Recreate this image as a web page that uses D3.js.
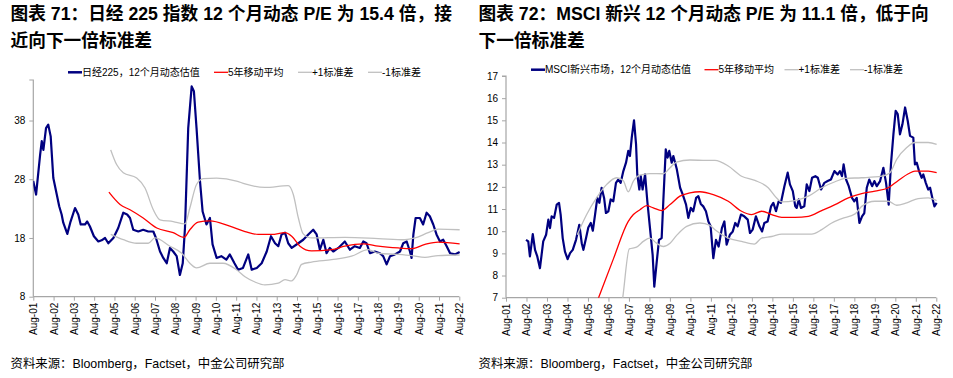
<!DOCTYPE html>
<html><head><meta charset="utf-8">
<script src="https://cdn.jsdelivr.net/npm/d3@7"></script>
<style>
html,body{margin:0;padding:0;background:#fff;}
svg{display:block;}
text{font-family:"Liberation Sans",Arial,"Noto Sans CJK SC",sans-serif;}
</style></head>
<body>
<svg id="c" width="953" height="378"></svg>
<script>
// ---------- DATA ----------
const xTickYears = d3.range(0, 22).map(i => 2001.583 + i);
const xTickLabels = ["Aug-01","Aug-02","Aug-03","Aug-04","Aug-05","Aug-06","Aug-07","Aug-08","Aug-09","Aug-10","Aug-11","Aug-12","Aug-13","Aug-14","Aug-15","Aug-16","Aug-17","Aug-18","Aug-19","Aug-20","Aug-21","Aug-22"];

const leftTitle = ["图表 71：日经 225 指数 12 个月动态 P/E 为 15.4 倍，接", "近向下一倍标准差"];
const rightTitle = ["图表 72：MSCI 新兴 12 个月动态 P/E 为 11.1 倍，低于向", "下一倍标准差"];
const sourceText = "资料来源：Bloomberg，Factset，中金公司研究部";
const leftLegend = ["日经225，12个月动态估值", "5年移动平均", "+1标准差", "-1标准差"];
const rightLegend = ["MSCI新兴市场，12个月动态估值", "5年移动平均", "+1标准差", "-1标准差"];
const leftYTicks = [8, 18, 28, 38];
const rightYTicks = [7, 8, 9, 10, 11, 12, 13, 14, 15, 16, 17];

const nikkeiPE = [[2001.58,27.7],[2001.72,25.4],[2001.92,32.2],[2002.0,34.5],[2002.08,33.0],[2002.21,36.7],[2002.32,37.3],[2002.44,35.3],[2002.57,28.2],[2002.74,25.4],[2002.86,23.4],[2002.98,22.0],[2003.06,20.6],[2003.26,18.7],[2003.42,20.8],[2003.64,23.1],[2003.8,22.0],[2003.92,20.3],[2004.13,20.3],[2004.24,20.8],[2004.37,20.0],[2004.57,18.3],[2004.79,17.4],[2004.95,17.6],[2005.12,18.0],[2005.28,17.1],[2005.53,18.0],[2005.77,19.7],[2006.02,22.3],[2006.21,22.0],[2006.35,21.4],[2006.51,19.4],[2006.76,19.1],[2007.0,19.4],[2007.25,19.1],[2007.5,19.1],[2007.63,18.0],[2007.83,15.7],[2007.99,14.6],[2008.16,13.7],[2008.32,16.3],[2008.48,15.7],[2008.65,14.9],[2008.81,11.7],[2008.95,13.7],[2009.06,19.7],[2009.22,36.7],[2009.39,43.8],[2009.5,43.0],[2009.63,36.7],[2009.8,27.7],[2009.93,22.5],[2010.12,20.3],[2010.29,21.4],[2010.42,16.9],[2010.62,14.6],[2010.85,14.9],[2011.1,14.3],[2011.27,15.2],[2011.5,13.7],[2011.68,12.6],[2011.92,12.9],[2012.18,15.2],[2012.35,12.6],[2012.6,12.9],[2012.84,13.7],[2013.09,15.7],[2013.3,18.3],[2013.5,17.1],[2013.66,16.6],[2013.82,18.6],[2013.99,18.9],[2014.15,17.1],[2014.32,16.3],[2014.65,17.1],[2014.89,17.7],[2015.14,18.6],[2015.38,19.4],[2015.55,18.6],[2015.71,16.0],[2015.88,17.7],[2016.04,15.4],[2016.2,16.3],[2016.37,15.7],[2016.62,16.3],[2016.94,17.4],[2017.19,16.0],[2017.43,16.6],[2017.68,16.3],[2017.85,17.4],[2018.01,17.1],[2018.18,15.4],[2018.42,15.7],[2018.67,15.4],[2018.83,14.9],[2019.0,13.5],[2019.17,14.9],[2019.41,15.2],[2019.66,15.7],[2019.82,17.1],[2019.99,17.4],[2020.15,15.7],[2020.23,14.6],[2020.32,18.6],[2020.43,21.4],[2020.64,21.4],[2020.8,20.3],[2020.97,22.3],[2021.13,21.7],[2021.3,20.3],[2021.46,18.6],[2021.63,17.4],[2021.79,17.7],[2021.96,16.6],[2022.13,15.4],[2022.37,15.2],[2022.6,15.6]];
const nikkeiMA = [[2005.31,25.8],[2005.86,23.7],[2006.35,22.8],[2007.0,21.4],[2007.67,19.7],[2008.48,18.9],[2009.01,18.1],[2009.3,19.4],[2009.71,20.7],[2010.29,20.9],[2011.27,20.0],[2012.02,19.1],[2012.67,18.6],[2013.33,18.6],[2013.99,18.9],[2014.32,18.3],[2014.73,16.6],[2015.3,15.8],[2016.29,16.0],[2016.94,16.6],[2017.85,17.0],[2018.59,16.6],[2019.57,16.3],[2020.23,16.2],[2020.89,16.9],[2021.54,17.3],[2022.6,17.0]];
const nikkeiPlus1 = [[2005.4,33.0],[2005.69,30.5],[2006.02,29.1],[2006.68,28.2],[2007.09,26.5],[2007.5,22.8],[2007.83,21.1],[2008.48,20.8],[2009.06,20.4],[2009.3,23.1],[2009.63,27.1],[2009.96,28.1],[2010.62,28.2],[2011.6,27.7],[2012.02,27.2],[2013.0,26.6],[2014.15,26.9],[2014.4,25.4],[2014.65,21.4],[2014.89,18.7],[2015.3,18.0],[2016.94,18.1],[2018.59,17.9],[2019.9,17.7],[2020.4,18.0],[2021.05,18.9],[2021.54,19.5],[2022.6,19.4]];
const nikkeiMinus1 = [[2005.4,18.6],[2006.02,17.7],[2006.68,17.1],[2007.25,17.1],[2007.58,18.0],[2008.32,16.6],[2008.9,15.4],[2009.3,13.7],[2009.63,12.9],[2010.29,13.7],[2010.94,13.7],[2011.6,12.6],[2012.02,11.4],[2012.51,10.5],[2013.0,10.0],[2013.66,10.3],[2013.99,10.9],[2014.32,10.7],[2014.56,11.7],[2014.81,13.5],[2015.3,13.9],[2016.29,14.3],[2017.27,14.9],[2018.09,16.0],[2018.59,15.4],[2019.57,15.2],[2020.23,15.0],[2020.89,14.7],[2021.54,15.0],[2022.6,15.1]];

const msciPE = [[2002.56,9.61],[2002.67,9.54],[2002.75,8.86],[2002.89,9.87],[2003.0,9.16],[2003.11,8.86],[2003.24,8.33],[2003.4,9.54],[2003.54,9.84],[2003.65,10.52],[2003.73,10.14],[2003.81,10.67],[2003.93,10.6],[2004.06,11.2],[2004.17,11.28],[2004.25,10.75],[2004.35,9.69],[2004.46,9.08],[2004.59,8.74],[2004.71,9.01],[2004.84,9.16],[2005.0,9.61],[2005.16,10.29],[2005.28,9.46],[2005.36,9.16],[2005.49,9.69],[2005.6,10.17],[2005.72,10.37],[2005.82,10.02],[2005.93,10.75],[2006.04,11.5],[2006.14,11.28],[2006.25,11.96],[2006.37,11.5],[2006.46,10.82],[2006.58,10.9],[2006.69,11.43],[2006.82,11.35],[2006.95,12.18],[2007.06,12.33],[2007.18,12.18],[2007.31,12.71],[2007.44,13.09],[2007.55,13.62],[2007.63,13.39],[2007.72,14.22],[2007.83,15.0],[2007.93,13.92],[2007.99,12.56],[2008.09,11.88],[2008.16,12.48],[2008.25,11.88],[2008.37,12.56],[2008.48,11.35],[2008.61,10.14],[2008.74,8.93],[2008.82,7.5],[2008.94,8.63],[2009.05,9.61],[2009.18,9.69],[2009.26,11.35],[2009.38,13.69],[2009.47,13.32],[2009.55,13.62],[2009.67,13.09],[2009.75,13.39],[2009.92,12.79],[2010.08,11.96],[2010.21,11.65],[2010.37,11.2],[2010.48,10.6],[2010.6,11.05],[2010.72,10.9],[2010.86,11.5],[2010.97,11.58],[2011.09,11.23],[2011.21,11.12],[2011.34,10.9],[2011.46,10.44],[2011.57,10.22],[2011.7,8.78],[2011.83,9.61],[2011.96,9.31],[2012.12,10.14],[2012.24,10.44],[2012.35,9.39],[2012.51,9.84],[2012.65,9.99],[2012.77,10.37],[2012.89,10.22],[2013.05,10.75],[2013.21,10.67],[2013.38,10.52],[2013.49,9.92],[2013.62,10.07],[2013.78,10.67],[2013.95,10.22],[2014.08,9.99],[2014.19,10.37],[2014.35,10.44],[2014.52,11.12],[2014.63,11.28],[2014.76,10.9],[2014.89,11.35],[2015.0,11.28],[2015.17,12.03],[2015.33,12.64],[2015.44,12.11],[2015.58,11.81],[2015.7,11.12],[2015.77,11.05],[2015.87,11.43],[2015.98,11.05],[2016.14,11.12],[2016.26,12.11],[2016.39,11.81],[2016.52,12.41],[2016.68,12.48],[2016.8,12.41],[2016.96,11.88],[2017.12,12.18],[2017.28,12.26],[2017.44,12.33],[2017.61,12.71],[2017.77,12.56],[2017.88,12.71],[2017.98,12.48],[2018.06,13.01],[2018.18,12.33],[2018.31,12.03],[2018.47,11.5],[2018.58,11.35],[2018.7,11.5],[2018.83,10.37],[2018.96,10.67],[2019.07,10.82],[2019.19,11.96],[2019.31,12.33],[2019.45,12.03],[2019.56,12.26],[2019.68,12.03],[2019.84,12.26],[2020.0,12.86],[2020.13,12.18],[2020.26,11.2],[2020.37,13.01],[2020.49,14.37],[2020.6,15.43],[2020.7,15.28],[2020.81,14.37],[2020.93,14.82],[2021.06,15.58],[2021.19,14.97],[2021.3,14.3],[2021.46,14.22],[2021.54,13.01],[2021.63,13.09],[2021.74,12.71],[2021.87,12.41],[2021.95,12.56],[2022.07,12.18],[2022.19,11.88],[2022.28,11.96],[2022.39,11.5],[2022.49,11.12],[2022.6,11.28]];
const msciMA = [[2005.6,5.8],[2006.1,7.0],[2006.82,8.74],[2007.55,10.44],[2007.8,10.75],[2008.12,10.97],[2008.45,11.15],[2008.77,11.05],[2009.18,10.93],[2009.59,11.2],[2010.07,11.58],[2010.56,11.73],[2011.05,11.78],[2011.7,11.65],[2012.43,11.35],[2013.08,10.9],[2013.57,10.75],[2014.06,10.9],[2014.55,10.75],[2015.04,10.62],[2015.69,10.62],[2016.34,10.67],[2016.99,10.93],[2017.64,11.2],[2018.29,11.5],[2018.94,11.69],[2019.59,11.81],[2020.24,11.96],[2020.73,12.29],[2021.22,12.59],[2021.54,12.71],[2022.19,12.71],[2022.6,12.64]];
const msciPlus1 = [[2005.06,9.84],[2005.52,10.75],[2006.0,11.5],[2006.5,12.11],[2006.98,12.41],[2007.3,12.29],[2007.55,11.78],[2007.8,12.26],[2008.12,12.53],[2008.6,12.6],[2009.26,12.59],[2009.59,12.86],[2009.9,13.12],[2010.56,13.21],[2011.38,13.19],[2011.78,13.19],[2012.43,12.94],[2013.08,12.48],[2013.73,12.29],[2014.38,11.96],[2014.79,11.5],[2015.04,11.32],[2015.69,11.38],[2016.34,11.58],[2016.99,11.96],[2017.64,12.23],[2018.13,12.38],[2018.94,12.41],[2019.92,12.48],[2020.32,12.64],[2020.65,13.24],[2021.14,13.77],[2021.54,14.0],[2022.19,14.0],[2022.6,13.92]];
const msciMinus1 = [[2007.1,5.9],[2007.28,7.0],[2007.6,9.2],[2007.95,9.28],[2008.3,9.55],[2008.6,9.69],[2008.93,9.46],[2009.26,9.31],[2009.59,9.46],[2009.9,9.8],[2010.4,10.22],[2011.05,10.37],[2011.54,10.26],[2011.78,10.07],[2012.43,9.69],[2013.08,9.54],[2013.7,9.42],[2014.06,9.69],[2014.55,9.76],[2015.04,9.87],[2015.69,9.87],[2016.5,9.87],[2016.99,10.07],[2017.48,10.37],[2017.97,10.57],[2018.62,10.78],[2018.94,11.12],[2019.59,11.35],[2020.24,11.35],[2020.65,11.17],[2021.14,11.28],[2021.7,11.47],[2022.19,11.5],[2022.6,11.38]];

// ---------- DRAW ----------
const svg = d3.select("#c");
const FONT_AXIS = 10;

function drawPanel(cfg) {
  const g = svg.append("g");
  const x = d3.scaleLinear().domain([2001.583, 2022.583]).range([cfg.x0, cfg.x1]);
  const y = d3.scaleLinear().domain(cfg.yDomain).range([cfg.yBottom, cfg.yTop]);

  // title
  cfg.title.forEach((t, i) => {
    g.append("text").attr("x", cfg.titleX).attr("y", 20 + i * 27)
      .attr("font-size", 17.7).attr("font-weight", "bold").attr("fill", "#000").text(t);
  });

  // clip
  const cid = "clip" + cfg.id;
  svg.append("clipPath").attr("id", cid).append("rect")
    .attr("x", cfg.x0).attr("y", cfg.yTop - 10).attr("width", cfg.x1 - cfg.x0 + 5).attr("height", cfg.yBottom - cfg.yTop + 10);

  // axes
  const yAxis = d3.axisLeft(y).tickValues(cfg.yTicks).tickSize(4).tickPadding(4).tickFormat(d3.format("d"));
  const ya = g.append("g").attr("transform", `translate(${cfg.x0},0)`).call(yAxis);
  ya.select(".domain").attr("stroke", "#a6a6a6").attr("stroke-width", 1.2).attr("d", `M-4,${cfg.yTop}H0V${cfg.yBottom}`);
  ya.selectAll(".tick line").attr("stroke", "#a6a6a6");
  ya.selectAll(".tick text").attr("font-size", FONT_AXIS).attr("fill", "#000")
    .style("font-family", '"Liberation Sans",Arial,sans-serif');

  const xAxis = d3.axisBottom(x).tickValues(xTickYears).tickSize(4).tickFormat((d, i) => xTickLabels[i]);
  const xa = g.append("g").attr("transform", `translate(0,${cfg.yBottom})`).call(xAxis);
  xa.select(".domain").attr("stroke", "#a6a6a6").attr("stroke-width", 1.2).attr("d", `M${cfg.x0},0H${cfg.x1}`);
  xa.selectAll(".tick line").attr("stroke", "#a6a6a6");
  xa.selectAll(".tick text").attr("font-size", FONT_AXIS).attr("fill", "#000")
    .style("font-family", '"Liberation Sans",Arial,sans-serif')
    .attr("text-anchor", "end").attr("dy", "0.35em")
    .attr("transform", "translate(0,6) rotate(-90)").attr("x", 0).attr("y", 0);

  // lines
  const lineJ = d3.line().x(d => x(d[0])).y(d => y(d[1])).curve(d3.curveLinear);
  const lineS = d3.line().x(d => x(d[0])).y(d => y(d[1])).curve(d3.curveMonotoneX);
  const plot = g.append("g").attr("clip-path", `url(#${cid})`);
  plot.append("path").datum(cfg.pe).attr("d", lineJ).attr("fill", "none").attr("stroke", "#000080").attr("stroke-width", 2.2).attr("stroke-linejoin", "round");
  plot.append("path").datum(cfg.ma).attr("d", lineS).attr("fill", "none").attr("stroke", "#ff0000").attr("stroke-width", 1.3);
  plot.append("path").datum(cfg.plus1).attr("d", lineS).attr("fill", "none").attr("stroke", "#c0c0c0").attr("stroke-width", 1.3);
  plot.append("path").datum(cfg.minus1).attr("d", lineS).attr("fill", "none").attr("stroke", "#c0c0c0").attr("stroke-width", 1.3);

  // legend
  const colors = ["#000080", "#ff0000", "#c0c0c0", "#c0c0c0"];
  const widths = [2.5, 1.3, 1.3, 1.3];
  cfg.legend.forEach((t, i) => {
    const lx = cfg.legX[i];
    g.append("line").attr("x1", lx).attr("x2", lx + 14).attr("y1", cfg.legY).attr("y2", cfg.legY)
      .attr("stroke", colors[i]).attr("stroke-width", widths[i]);
    g.append("text").attr("x", lx + 14).attr("y", cfg.legY + 3.6).attr("font-size", 10).attr("fill", "#000").text(t);
  });

  // source
  g.append("text").attr("x", cfg.titleX).attr("y", 368).attr("font-size", 12.4).attr("fill", "#000").text(sourceText);
}

drawPanel({
  id: "L", x0: 33.3, x1: 459.3, yBottom: 296.7, yTop: 80, yDomain: [8, 44.9],
  yTicks: leftYTicks, title: leftTitle, titleX: 10.5, legend: leftLegend,
  legX: [68, 214, 298, 368], legY: 72.3,
  pe: nikkeiPE, ma: nikkeiMA, plus1: nikkeiPlus1, minus1: nikkeiMinus1
});
drawPanel({
  id: "R", x0: 506, x1: 936.3, yBottom: 297.7, yTop: 76, yDomain: [7, 17],
  yTicks: rightYTicks, title: rightTitle, titleX: 478.5, legend: rightLegend,
  legX: [531, 704.5, 784.5, 850], legY: 69.7,
  pe: msciPE, ma: msciMA, plus1: msciPlus1, minus1: msciMinus1
});
</script>
</body></html>
